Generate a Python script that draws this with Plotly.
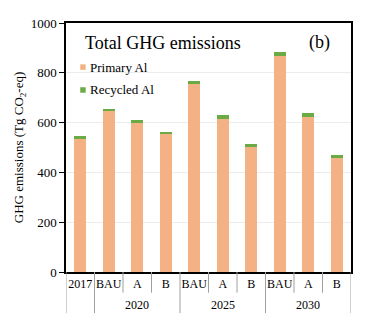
import plotly.graph_objects as go

inner_labels = ["2017", "BAU", "A", "B", "BAU", "A", "B", "BAU", "A", "B"]
group_labels = ["2020", "2025", "2030"]
group_centers = [2, 5, 8]
group_bounds = [-0.5, 0.5, 3.5, 6.5, 9.5]
primary = [538, 646, 600, 553, 755, 616, 504, 868, 622, 456]
recycled = [8, 9, 9, 9, 13, 13, 11, 16, 16, 13]
y_ticks = [0, 200, 400, 600, 800, 1000]
series_names = ["Primary Al", "Recycled Al"]
series_colors = ["#F4B183", "#6AAB45"]

FONT = "Liberation Serif"
xpos = list(range(len(inner_labels)))

fig = go.Figure()
for name, vals, col in zip(series_names, [primary, recycled], series_colors):
    fig.add_trace(go.Bar(x=xpos, y=vals, name=name, showlegend=False,
                         marker=dict(color=col, line=dict(width=0)), width=0.42))

shapes = []
for i in range(len(inner_labels) + 1):
    b = i - 0.5
    long = b in group_bounds
    shapes.append(dict(type="line", xref="x", yref="paper", x0=b, x1=b,
                       y0=0, y1=-0.165 if long else -0.083,
                       line=dict(color="#a0a0a0", width=1)))

annotations = [
    dict(text=g, x=c, y=-0.133, xref="x", yref="paper", showarrow=False,
         font=dict(family=FONT, size=12, color="black"), yanchor="middle")
    for g, c in zip(group_labels, group_centers)
]
annotations.append(dict(text="Total GHG emissions", x=0.06, y=0.92, xref="paper", yref="paper",
                        showarrow=False, xanchor="left", yanchor="middle",
                        font=dict(family=FONT, size=18, color="black")))
annotations.append(dict(text="(b)", x=0.935, y=0.922, xref="paper", yref="paper",
                        showarrow=False, xanchor="right", yanchor="middle",
                        font=dict(family=FONT, size=18, color="black")))

# legend keys (drawn as key squares + labels)
legend_y = [0.823, 0.731]
for name, col, ly in zip(series_names, series_colors, legend_y):
    shapes.append(dict(type="rect", xref="paper", yref="paper",
                       x0=0.05, x1=0.069, y0=ly - 0.011, y1=ly + 0.011,
                       fillcolor=col, line=dict(width=0)))
    annotations.append(dict(text=name, x=0.077, y=ly, xref="paper", yref="paper",
                            showarrow=False, xanchor="left", yanchor="middle",
                            font=dict(family=FONT, size=13, color="black")))

fig.update_layout(
    width=379, height=330,
    margin=dict(l=66, r=28, t=23, b=58),
    barmode="stack",
    plot_bgcolor="white", paper_bgcolor="white",
    font=dict(family=FONT, size=13, color="black"),
    showlegend=False,
    shapes=shapes,
    annotations=annotations,
    xaxis=dict(range=[-0.5, 9.5], tickmode="array", tickvals=xpos, ticktext=inner_labels,
               ticks="", showgrid=False, zeroline=False,
               showline=True, linecolor="black", linewidth=1.5, mirror=True,
               tickfont=dict(family=FONT, size=12), fixedrange=True),
    yaxis=dict(range=[0, 1000], tickvals=y_ticks, ticks="outside", ticklen=5,
               tickcolor="black", showgrid=True, gridcolor="#ececec",
               zeroline=False, showline=True, linecolor="black", linewidth=1.5, mirror=True,
               tickfont=dict(family=FONT, size=13),
               title=dict(text="GHG emissions (Tg CO<sub>2</sub>-eq)",
                          font=dict(family=FONT, size=13), standoff=4)),
)

fig.write_html("out.html")
